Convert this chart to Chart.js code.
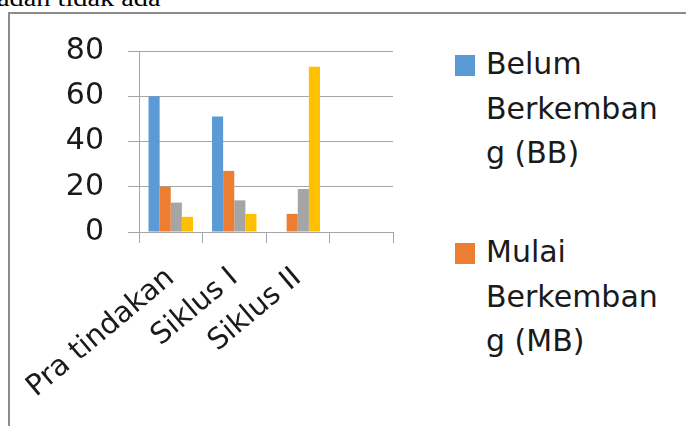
<!DOCTYPE html>
<html>
<head>
<meta charset="utf-8">
<script src="https://cdn.jsdelivr.net/npm/chart.js@4/dist/chart.umd.min.js"></script>
<style>
  html, body { margin: 0; padding: 0; background: #fff; }
  body { width: 686px; height: 426px; overflow: hidden; position: relative; }
  #teks-atas {
    position: absolute; left: -3px; top: -14px;
    font-family: "Liberation Serif", serif; font-size: 24px; line-height: 24px;
    color: #000; white-space: nowrap;
    transform: scaleX(1.18); transform-origin: left top;
  }
  #bingkai {
    position: absolute; left: 8px; top: 12px; right: -10px; bottom: -10px;
    border-left: 2px solid #8c8c8c; border-top: 2px solid #8c8c8c;
  }
  #wadah-grafik { position: absolute; left: 9px; top: 13px; width: 440px; height: 413px; }
  .legenda-item { position: absolute; left: 455px; }
  .legenda-kotak { position: absolute; left: 0; width: 20px; height: 21px; }
  .legenda-teks {
    position: absolute; left: 31px; white-space: nowrap;
    font-family: "DejaVu Sans", sans-serif; font-size: 30px; line-height: 44.5px; color: #1a1a1a;
  }
</style>
</head>
<body>
<div id="teks-atas">adan tidak ada</div>
<div id="bingkai"></div>
<div id="wadah-grafik"><canvas id="grafik"></canvas></div>
<div id="legenda"></div>

<script>
// Data dari grafik
const kategori = ['Pra tindakan', 'Siklus I', 'Siklus II', ''];
const namaSeri = [
    'Belum Berkembang (BB)',
    'Mulai Berkembang (MB)',
    'Berkembang Sesuai Harapan (BSH)',
    'Berkembang Sangat Baik (BSB)'
];
const nilaiBB  = [60, 51, 0, null];
const nilaiMB  = [20, 27, 8, null];
const nilaiBSH = [13, 14, 19, null];
const nilaiBSB = [6.7, 8, 73, null];
const warnaSeri = ['#5b9bd5', '#ed7d31', '#a5a5a5', '#ffc000'];
const labelSumbuY = [0, 20, 40, 60, 80];

const warnaGaris = '#a6a6a6';
const warnaTeks = '#1a1a1a';

// Pecah teks legenda per 9 karakter (meniru wrap di Excel)
function pecahBaris(teks, maks) {
    const hasil = [];
    let baris = '';
    teks.split(' ').forEach(kata => {
        let calon = baris ? baris + ' ' + kata : kata;
        if (calon.length <= maks) { baris = calon; return; }
        if (baris) hasil.push(baris);
        baris = kata;
        while (baris.length > maks) {
            hasil.push(baris.substring(0, maks));
            baris = baris.substring(maks);
        }
    });
    if (baris) hasil.push(baris);
    return hasil;
}

// Legenda HTML (di luar kanvas, sebagian terpotong seperti aslinya)
const legenda = document.getElementById('legenda');
namaSeri.forEach((nama, i) => {
    const item = document.createElement('div');
    item.className = 'legenda-item';
    item.style.top = (42 + i * 188) + 'px';
    item.innerHTML = `
        <div class="legenda-kotak" style="top:13px;background:${warnaSeri[i]}"></div>
        <div class="legenda-teks" style="top:0">${pecahBaris(nama, 9).join('<br>')}</div>
    `;
    legenda.appendChild(item);
});

const ctx = document.getElementById('grafik').getContext('2d');
new Chart(ctx, {
    type: 'bar',
    data: {
        labels: kategori,
        datasets: [nilaiBB, nilaiMB, nilaiBSH, nilaiBSB].map((d, i) => ({
            label: namaSeri[i],
            data: d,
            backgroundColor: warnaSeri[i],
            borderWidth: 0,
            barPercentage: 1,
            categoryPercentage: 0.7
        }))
    },
    options: {
        responsive: true,
        maintainAspectRatio: false,
        animation: false,
        layout: { padding: { left: 57, top: 38, right: 56, bottom: 0 } },
        plugins: { legend: { display: false }, tooltip: { enabled: false } },
        scales: {
            y: {
                min: 0,
                max: 80,
                // ukuran tetap supaya area plot sama dengan gambar asli
                afterFit: s => { s.width = 73; s.paddingTop = 0; s.paddingBottom = 0; },
                afterBuildTicks: s => { s.ticks = labelSumbuY.map(v => ({ value: v })); },
                ticks: {
                    padding: 24,
                    color: warnaTeks,
                    font: { family: 'DejaVu Sans', size: 30 }
                },
                grid: { color: warnaGaris, lineWidth: 1, tickLength: 11 },
                border: { color: warnaGaris, width: 1 }
            },
            x: {
                afterFit: s => { s.height = 194; s.paddingLeft = 0; s.paddingRight = 0; },
                ticks: {
                    minRotation: 40,
                    maxRotation: 40,
                    autoSkip: false,
                    padding: 18,
                    color: warnaTeks,
                    font: { family: 'DejaVu Sans', size: 29 }
                },
                grid: { drawOnChartArea: false, color: warnaGaris, lineWidth: 1, tickLength: 11, offset: true },
                border: { color: warnaGaris, width: 1 }
            }
        }
    }
});
</script>
</body>
</html>
